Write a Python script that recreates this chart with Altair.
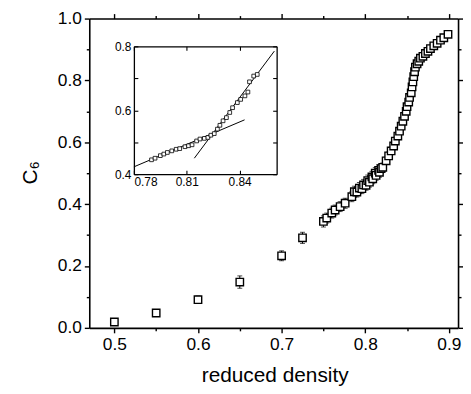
import altair as alt
import pandas as pd

# ---------------- main series: reduced density vs C6 ----------------
main_x = [0.500, 0.550, 0.600, 0.650, 0.700, 0.725,
          0.750, 0.754, 0.760, 0.764, 0.770, 0.776, 0.784, 0.787, 0.790,
          0.793, 0.796, 0.798, 0.801, 0.803, 0.805, 0.808, 0.809, 0.812,
          0.813, 0.816, 0.817, 0.819, 0.821, 0.825, 0.828, 0.831, 0.834,
          0.836, 0.839, 0.841, 0.843, 0.845, 0.847, 0.849, 0.850, 0.852,
          0.853, 0.855, 0.856, 0.857, 0.858, 0.859, 0.860, 0.862, 0.864,
          0.866, 0.869, 0.872, 0.875, 0.878, 0.882, 0.886, 0.890, 0.894,
          0.899]
main_y = [0.019, 0.048, 0.091, 0.148, 0.233, 0.291,
          0.344, 0.355, 0.371, 0.381, 0.392, 0.403, 0.424, 0.440, 0.439,
          0.452, 0.450, 0.462, 0.461, 0.476, 0.471, 0.488, 0.482, 0.500,
          0.493, 0.509, 0.503, 0.515, 0.519, 0.540, 0.556, 0.572, 0.588,
          0.604, 0.620, 0.636, 0.652, 0.668, 0.684, 0.700, 0.715, 0.730,
          0.745, 0.760, 0.779, 0.795, 0.812, 0.828, 0.843, 0.854, 0.862,
          0.872, 0.878, 0.887, 0.894, 0.903, 0.912, 0.920, 0.930, 0.938,
          0.949]
main_err = [0.004, 0.004, 0.012, 0.020, 0.016, 0.018,
            0.018, 0.016, 0.016, 0.016, 0.016, 0.016, 0.016, 0.018, 0.016,
            0.018, 0.016, 0.018, 0.016, 0.018, 0.016, 0.018, 0.016, 0.018,
            0.016, 0.018, 0.016, 0.016, 0.014, 0.012, 0.012, 0.012, 0.012,
            0.012, 0.012, 0.012, 0.012, 0.012, 0.012, 0.012, 0.012, 0.012,
            0.012, 0.012, 0.012, 0.010, 0.010, 0.010, 0.010, 0.010, 0.010,
            0.010, 0.008, 0.008, 0.008, 0.008, 0.006, 0.006, 0.006, 0.006,
            0.006]

# ---------------- inset series ----------------
inset_x = [0.790, 0.792, 0.795, 0.797, 0.799, 0.8015, 0.804, 0.806, 0.809,
           0.811, 0.813, 0.8156, 0.8175, 0.820, 0.822, 0.8237, 0.8256,
           0.8274, 0.8288, 0.8306, 0.8325, 0.8344, 0.836, 0.8387, 0.8406,
           0.843, 0.8447, 0.8456, 0.848, 0.850]
inset_y = [0.445, 0.450, 0.458, 0.463, 0.468, 0.473, 0.478, 0.480, 0.486,
           0.489, 0.492, 0.504, 0.510, 0.512, 0.515, 0.522, 0.527, 0.541,
           0.553, 0.567, 0.577, 0.593, 0.608, 0.624, 0.634, 0.645, 0.657,
           0.689, 0.707, 0.712]

# two straight fit lines in the inset (end points)
fit_id = ["low", "low", "high", "high"]
fit_x = [0.780, 0.8428, 0.8143, 0.8597]
fit_y = [0.423, 0.570, 0.450, 0.785]

# ticks / domains
X_DOM = [0.47, 0.911]
Y_DOM = [0.0, 1.0]
X_TICKS = [0.5, 0.55, 0.6, 0.65, 0.7, 0.75, 0.8, 0.85, 0.9]
Y_TICKS = [0.0, 0.1, 0.2, 0.3, 0.4, 0.5, 0.6, 0.7, 0.8, 0.9, 1.0]
IX_DOM = [0.78, 0.861]
IY_DOM = [0.4, 0.8]
IX_TICKS = [0.78, 0.81, 0.84]
IY_TICKS = [0.4, 0.5, 0.6, 0.7, 0.8]

TOP = 9
W, H = 372, 312
IX_RANGE = [45, 189]
IY_RANGE = [157, 28]

main = pd.DataFrame({"x": main_x, "y": main_y, "err": main_err})
main["lo"] = main["y"] - main["err"]
main["hi"] = main["y"] + main["err"]
inset = pd.DataFrame({"x": inset_x, "y": inset_y})
fits = pd.DataFrame({"id": fit_id, "x": fit_x, "y": fit_y})

FONT = "Liberation Sans"

sx = alt.Scale(domain=X_DOM, nice=False, zero=False)
sy = alt.Scale(domain=Y_DOM, nice=False, zero=False)
six = alt.Scale(domain=IX_DOM, range=IX_RANGE, nice=False, zero=False)
siy = alt.Scale(domain=IY_DOM, range=IY_RANGE, nice=False, zero=False)

x_major = "abs(datum.value*10 - round(datum.value*10)) < 0.001"
y_major = "abs(datum.value*5 - round(datum.value*5)) < 0.001"
iy_major = "abs(datum.value*5 - round(datum.value*5)) < 0.001"

def tsize(test, big, small):
    return {"condition": {"test": test, "value": big}, "value": small}

common_axis = dict(domainColor="black", domainWidth=1.6, tickColor="black",
                   tickWidth=1.4, labelColor="black", labelFont=FONT,
                   grid=False)

# ---- main marks ----
rules = alt.Chart(main).mark_rule(color="black", strokeWidth=1).encode(
    x=alt.X("x:Q", scale=sx, axis=None),
    y=alt.Y("lo:Q", scale=sy, axis=None),
    y2="hi:Q",
)
cap_hi = alt.Chart(main).mark_tick(orient="horizontal", color="black",
                                   thickness=1, size=5).encode(
    x=alt.X("x:Q", scale=sx, axis=None),
    y=alt.Y("hi:Q", scale=sy, axis=None),
)
cap_lo = alt.Chart(main).mark_tick(orient="horizontal", color="black",
                                   thickness=1, size=5).encode(
    x=alt.X("x:Q", scale=sx, axis=None),
    y=alt.Y("lo:Q", scale=sy, axis=None),
)
points = alt.Chart(main).mark_point(shape="square", filled=True, fill="white",
                                    stroke="black", strokeWidth=1.4,
                                    size=56, opacity=1).encode(
    x=alt.X("x:Q", scale=sx, axis=alt.Axis(
        orient="bottom", values=X_TICKS, title="reduced density",
        labelExpr=f"{x_major} ? format(datum.value, '.1f') : ''",
        tickSize=tsize(x_major, 5, 3), labelPadding=3, labelFontSize=17.5,
        titleFont=FONT, titleFontSize=21, titleFontWeight="normal",
        titleColor="black", titleX=W / 2 + 1, titleY=48,
        titleAlign="center", titleBaseline="middle", **common_axis)),
    y=alt.Y("y:Q", scale=sy, axis=alt.Axis(
        orient="left", values=Y_TICKS, title="C₆",
        labelExpr=f"{y_major} ? format(datum.value, '.1f') : ''",
        tickSize=tsize(y_major, 5, 3), labelPadding=3, labelFontSize=17.5,
        titleFont=FONT, titleFontSize=21, titleFontWeight="normal",
        titleColor="black", titleX=-59, titleY=155, titleAngle=270,
        titleAlign="center", titleBaseline="middle", **common_axis)),
)
mirror = alt.Chart(main).mark_point(opacity=0).encode(
    x=alt.X("x:Q", scale=sx, axis=alt.Axis(
        orient="top", values=X_TICKS, labels=False, title=None,
        tickSize=tsize(x_major, 5, 3), **common_axis)),
    y=alt.Y("y:Q", scale=sy, axis=alt.Axis(
        orient="right", values=Y_TICKS, labels=False, title=None,
        tickSize=tsize(y_major, 5, 3), **common_axis)),
)

# ---- inset frame and ticks ----
in_common = dict(common_axis, domainWidth=1.3, tickWidth=1.1)
in_a = alt.Chart(inset).mark_point(opacity=0).encode(
    x=alt.X("x:Q", scale=six, axis=alt.Axis(
        orient="bottom", offset=-(H - IY_RANGE[0]), values=IX_TICKS,
        format=".2f", ticks=False, labelPadding=2, labelFontSize=12,
        title=None, **in_common)),
    y=alt.Y("y:Q", scale=siy, axis=alt.Axis(
        orient="left", offset=-IX_RANGE[0], values=IY_TICKS,
        labelExpr=f"{iy_major} ? format(datum.value, '.1f') : ''",
        ticks=False, labelPadding=3, labelFontSize=12, title=None,
        **in_common)),
)
in_b = alt.Chart(inset).mark_point(opacity=0).encode(
    x=alt.X("x:Q", scale=six, axis=alt.Axis(
        orient="top", offset=-IY_RANGE[1], values=IX_TICKS, labels=False,
        ticks=False, title=None, **in_common)),
    y=alt.Y("y:Q", scale=siy, axis=alt.Axis(
        orient="right", offset=-(W - IX_RANGE[1]), values=IY_TICKS,
        labels=False, ticks=False, title=None, **in_common)),
)
in_c = alt.Chart(inset).mark_point(opacity=0).encode(
    x=alt.X("x:Q", scale=six, axis=alt.Axis(
        orient="top", offset=-IY_RANGE[0], values=IX_TICKS, labels=False,
        domain=False, tickSize=4, title=None, **in_common)),
    y=alt.Y("y:Q", scale=siy, axis=alt.Axis(
        orient="right", offset=-(W - IX_RANGE[0]), values=IY_TICKS,
        labels=False, domain=False, tickSize=4, title=None, **in_common)),
)
in_d = alt.Chart(inset).mark_point(opacity=0).encode(
    x=alt.X("x:Q", scale=six, axis=alt.Axis(
        orient="bottom", offset=-(H - IY_RANGE[1]), values=IX_TICKS,
        labels=False, domain=False, tickSize=4, title=None, **in_common)),
    y=alt.Y("y:Q", scale=siy, axis=alt.Axis(
        orient="left", offset=-IX_RANGE[1], values=IY_TICKS, labels=False,
        domain=False, tickSize=4, title=None, **in_common)),
)
in_lines = alt.Chart(fits).mark_line(color="black", strokeWidth=1).encode(
    x=alt.X("x:Q", scale=six, axis=None),
    y=alt.Y("y:Q", scale=siy, axis=None),
    detail="id:N",
)
in_pts = alt.Chart(inset).mark_point(shape="square", filled=True,
                                     fill="white", stroke="black",
                                     strokeWidth=0.8, size=14,
                                     opacity=1).encode(
    x=alt.X("x:Q", scale=six, axis=None),
    y=alt.Y("y:Q", scale=siy, axis=None),
)

chart = alt.layer(
    rules, cap_hi, cap_lo, points, mirror,
    in_a, in_b, in_c, in_d, in_lines, in_pts,
).resolve_scale(x="independent", y="independent").properties(
    width=W, height=H,
    autosize=alt.AutoSizeParams(type="none"),
    padding={"left": 82, "top": TOP, "right": 5, "bottom": 57},
    background="white",
).configure_view(stroke=None)

chart.save("out.html", embed_options={"renderer": "svg", "actions": False})
